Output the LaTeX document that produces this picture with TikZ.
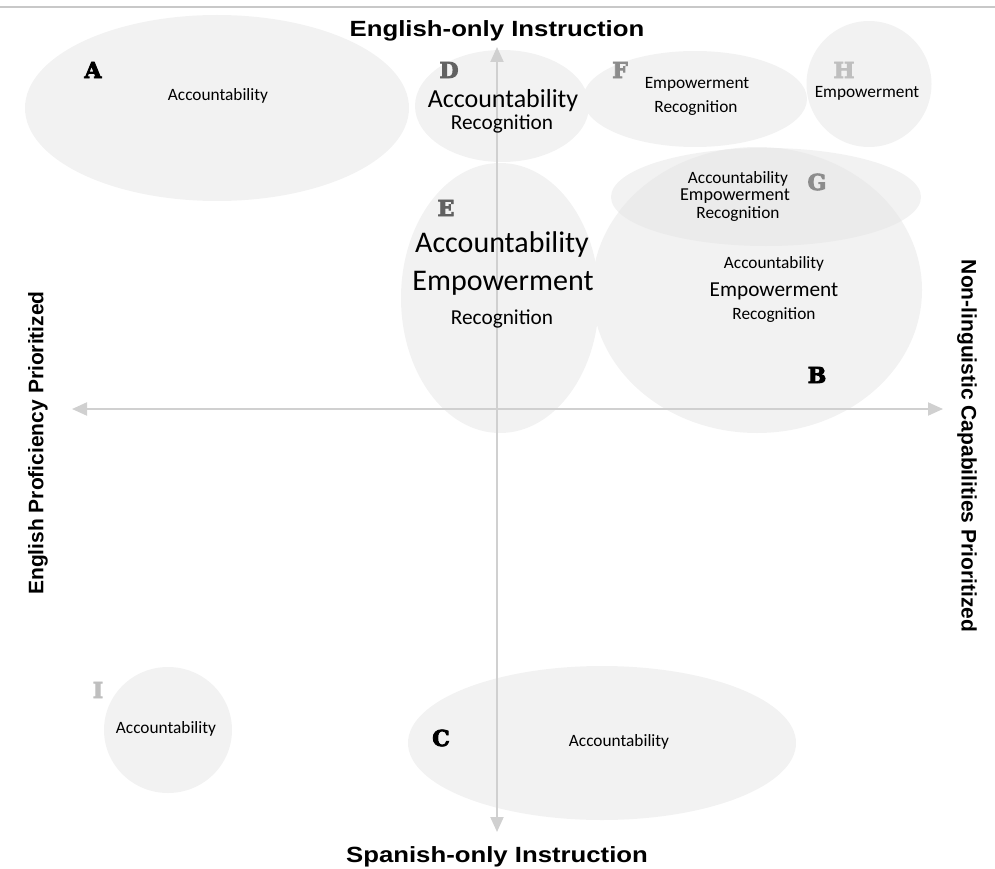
\documentclass[tikz,border=0pt]{standalone}
\usepackage{fontspec}
\setmainfont{Carlito}
\newfontfamily\headfont{Liberation Sans}
\newfontfamily\tagfont{DejaVu Serif Bold}[FakeBold=4]
\usetikzlibrary{shapes.geometric,arrows.meta}
\definecolor{blobfill}{HTML}{F2F2F2}
\definecolor{blobover}{HTML}{EBEBEB}
\definecolor{axisgray}{HTML}{D0D0D0}
\definecolor{ruleline}{HTML}{C8C8C8}
\tikzset{
  blob/.style={ellipse, inner sep=0pt, fill=blobfill, draw=none},
  axisline/.style={draw=axisgray, line width=2pt, {Triangle[length=15pt,width=13pt]}-{Triangle[length=15pt,width=13pt]}},
  heading/.style={font=\headfont\bfseries\fontsize{22}{24}\selectfont, inner sep=0pt},
  sidehead/.style={font=\headfont\bfseries\fontsize{21}{23}\selectfont, inner sep=0pt},
  tag/.style={font=\tagfont\fontsize{22}{24}\selectfont, inner sep=0pt},
  small/.style={font=\fontsize{17.3}{19}\selectfont, inner sep=0pt},
  medium/.style={font=\fontsize{21.3}{23}\selectfont, inner sep=0pt},
  large/.style={font=\fontsize{30}{32}\selectfont, inner sep=0pt},
}
\newcommand{\widehead}[1]{\scalebox{1.17}[1]{#1}}
\begin{document}
\begin{tikzpicture}[x=1pt,y=-1pt]
\useasboundingbox (0,0) rectangle (995,869);
% top rule
\coordinate (ruleL) at (0,7);
\coordinate (ruleR) at (995,7);
\draw[ruleline, line width=1.5pt] (ruleL) -- (ruleR);

% regions
\node[blob, minimum width=384pt, minimum height=186pt] (A) at (217,108) {};
\node[blob, minimum width=174pt, minimum height=112pt] (D) at (502,106) {};
\node[blob, minimum width=224pt, minimum height=96pt] (F) at (695,99) {};
\node[blob, minimum width=125pt, minimum height=126pt] (H) at (869,84) {};
\node[blob, minimum width=330pt, minimum height=286pt] (B) at (757,290) {};
\node[blob, minimum width=310pt, minimum height=98pt] (G) at (766,197) {};
\node[blob, minimum width=198pt, minimum height=270pt] (E) at (500,298) {};
\node[blob, minimum width=128pt, minimum height=126pt] (I) at (168,730) {};
\node[blob, minimum width=388pt, minimum height=154pt] (C) at (602,743) {};
% shared part of B and G
\begin{scope}
  \clip (757,290) ellipse [x radius=165, y radius=143];
  \fill[blobover] (766,197) ellipse [x radius=155, y radius=49];
\end{scope}

% axes
\coordinate (top) at (497,47);
\coordinate (bottom) at (497,832);
\coordinate (left) at (72,409);
\coordinate (right) at (943,409);
\path[axisline] (bottom) -- (top);
\path[axisline] (left) -- (right);

% axis labels
\node[heading] (north) at (497,31) {\widehead{English-only Instruction}};
\node[heading] (south) at (497,857) {\widehead{Spanish-only Instruction}};
\node[sidehead, rotate=90] (west) at (38,443) {English Proficiency Prioritized};
\node[sidehead, rotate=-90] (east) at (967,446) {Non-linguistic Capabilities Prioritized};

% region letters
\node[tag, black] (tA) at (93,70) {A};
\node[tag, black] (tB) at (817,375) {B};
\node[tag, black] (tC) at (441,738) {C};
\node[tag, black!62] (tD) at (449,70) {D};
\node[tag, black!62] (tE) at (446,208) {E};
\node[tag, black!45] (tF) at (620,70) {F};
\node[tag, black!45] (tG) at (817,182) {G};
\node[tag, black!25] (tH) at (844,70) {H};
\node[tag, black!25] (tI) at (98,690) {I};

% region contents
\node[small] (lA) at (218,96) {Accountability};

\node[font=\fontsize{26}{28}\selectfont, inner sep=0pt] (lD1) at (503,101) {Accountability};
\node[medium] (lD2) at (502,124) {Recognition};

\node[small] (lF1) at (697,84) {Empowerment};
\node[small] (lF2) at (696,108) {Recognition};

\node[small] (lH) at (867,93) {Empowerment};

\node[small] (lG1) at (738,179) {Accountability};
\node[font=\fontsize{18.2}{20}\selectfont, inner sep=0pt] (lG2) at (735,196) {Empowerment};
\node[small] (lG3) at (738,214) {Recognition};

\node[large] (lE1) at (502,245) {Accountability};
\node[large] (lE2) at (503,283) {Empowerment};
\node[medium] (lE3) at (502,319) {Recognition};

\node[small] (lB1) at (774,264) {Accountability};
\node[medium] (lB2) at (774,291) {Empowerment};
\node[small] (lB3) at (774,315) {Recognition};

\node[small] (lI) at (166,729) {Accountability};
\node[small] (lC) at (619,742) {Accountability};
\end{tikzpicture}
\end{document}
